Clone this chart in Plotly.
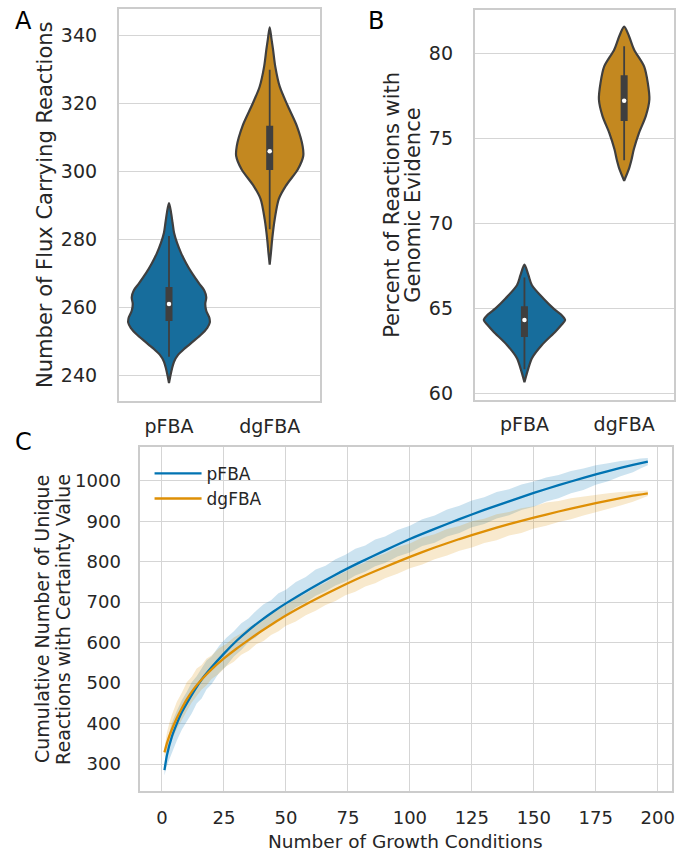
import plotly.graph_objects as go

categories = ["pFBA", "dgFBA"]

# ---------------- Panel A: violin outlines (value, half-width in category units)
a_pfba_vals = [290.7, 288, 285, 282, 279, 276, 273, 270, 267, 265, 263, 261, 259, 257, 255.5, 254, 252, 250, 248, 246, 244, 242, 240, 237.7]
a_pfba_half = [0, 0.02, 0.035, 0.05, 0.08, 0.12, 0.17, 0.23, 0.30, 0.35, 0.37, 0.36, 0.37, 0.40, 0.405, 0.38, 0.32, 0.24, 0.16, 0.09, 0.05, 0.03, 0.015, 0]
a_dgfba_vals = [342.5, 339, 336, 331, 325, 319.3, 313.4, 307.5, 304.6, 300.7, 295.8, 291.9, 286, 280.2, 276, 272.6]
a_dgfba_half = [0, 0.018, 0.033, 0.055, 0.10, 0.18, 0.27, 0.327, 0.333, 0.28, 0.16, 0.09, 0.05, 0.025, 0.012, 0]
# box stats: lower whisker, q1, median, q3, upper whisker
a_pfba_box = [245.5, 256, 261, 266, 281]
a_dgfba_box = [283, 300.5, 306, 313.5, 330]

# ---------------- Panel B
b_pfba_vals = [67.55, 66.93, 66.34, 65.56, 64.98, 64.6, 64.29, 64.0, 63.61, 62.83, 62.05, 61.46, 60.64]
b_pfba_half = [0, 0.04, 0.075, 0.19, 0.29, 0.37, 0.408, 0.37, 0.31, 0.175, 0.075, 0.04, 0]
b_dgfba_vals = [81.56, 80.98, 80.2, 79.22, 78.25, 77.27, 76.29, 75.32, 74.34, 73.76, 73.17, 72.49]
b_dgfba_half = [0, 0.05, 0.10, 0.20, 0.237, 0.253, 0.217, 0.15, 0.097, 0.075, 0.047, 0]
b_pfba_box = [61.4, 63.3, 64.3, 65.1, 66.8]
b_dgfba_box = [73.7, 76.0, 77.2, 78.7, 80.4]

# ---------------- Panel C: cumulative curves (mean lines)
c_x = [1, 2, 4, 6, 8, 10, 13, 16, 20, 25, 30, 35, 40, 45, 50, 60, 70, 80, 90, 100,
       110, 120, 130, 140, 150, 160, 170, 180, 190, 196]
c_pfba_mean = [285, 322, 368, 400, 428, 450, 481, 509, 539, 573, 604, 631, 655, 677, 697, 734, 768, 799, 828, 856,
               881, 905, 928, 949, 970, 989, 1007, 1024, 1039, 1047]
c_dgfba_mean = [329, 352, 386, 414, 438, 460, 487, 509, 534, 561, 585, 607, 628, 648, 667, 701, 732, 761, 787, 812,
                835, 856, 875, 893, 909, 924, 938, 951, 963, 969]

# confidence bands
c_band_x = [1, 2, 3, 4, 6, 8, 10, 12, 14, 16, 18, 20, 23, 26, 29, 32, 35, 38, 41, 44, 47, 50, 54, 58, 62, 66,
            70, 74, 78, 82, 86, 90, 95, 100, 105, 110, 115, 120, 125, 130, 135, 140, 145, 150, 155, 160, 165,
            170, 175, 180, 185, 190, 193, 196]
c_pfba_high = [300, 350, 378, 402, 432, 458, 478, 502, 517, 537, 556, 566, 592, 612, 628, 648, 660, 679, 695, 705,
               722, 731, 750, 762, 781, 790, 806, 817, 832, 840, 855, 862, 878, 889, 905, 914, 929, 938, 951, 959,
               972, 979, 991, 998, 1008, 1014, 1024, 1030, 1038, 1043, 1049, 1052, 1055, 1056]
c_pfba_low = [272, 296, 312, 330, 358, 385, 405, 425, 450, 462, 485, 497, 525, 543, 566, 582, 602, 614, 633, 644,
              659, 669, 687, 699, 716, 727, 741, 751, 766, 775, 789, 797, 813, 823, 839, 847, 862, 871, 885, 893,
              907, 915, 928, 936, 949, 957, 969, 977, 990, 999, 1011, 1021, 1030, 1038]
c_dgfba_high = [340, 378, 402, 422, 454, 476, 502, 516, 536, 545, 561, 568, 586, 597, 613, 623, 638, 647, 662, 670,
                685, 693, 710, 721, 737, 748, 764, 775, 789, 798, 812, 820, 836, 845, 860, 868, 881, 888, 900, 906,
                917, 923, 932, 937, 946, 950, 957, 961, 966, 969, 972, 974, 975, 976]
c_dgfba_low = [318, 332, 346, 360, 387, 410, 431, 452, 467, 484, 495, 510, 523, 542, 553, 570, 580, 596, 604, 619,
               628, 642, 652, 668, 679, 693, 703, 717, 726, 739, 747, 759, 770, 784, 793, 806, 815, 827, 835, 846,
               853, 865, 871, 882, 889, 898, 905, 914, 922, 930, 939, 948, 955, 962]

a_yticks = [240, 260, 280, 300, 320, 340]
b_yticks = [60, 65, 70, 75, 80]
c_xticks = [0, 25, 50, 75, 100, 125, 150, 175, 200]
c_yticks = [300, 400, 500, 600, 700, 800, 900, 1000]

VIOLIN_FILL = ["#176d9c", "#c38820"]
LINE_COL = ["#0173B2", "#DE8F05"]
BAND_COL = ["rgba(1,115,178,0.2)", "rgba(222,143,5,0.2)"]
EDGE = "#3f3f3f"
TXT = "#262626"
GRID = "#d5d5d5"
FONT = "DejaVu Sans"

fig = go.Figure()


def add_violin(pos, vals, half, box, fill, xa, ya):
    xs = [pos + w for w in half] + [pos - w for w in half[::-1]]
    ys = list(vals) + list(vals[::-1])
    fig.add_trace(go.Scatter(x=xs, y=ys, fill="toself", fillcolor=fill, mode="lines",
                             line=dict(color=EDGE, width=2.2, shape="spline", smoothing=0.8),
                             xaxis=xa, yaxis=ya, showlegend=False, hoverinfo="skip"))
    fig.add_trace(go.Scatter(x=[pos, pos], y=[box[0], box[4]], mode="lines",
                             line=dict(color=EDGE, width=1.8), xaxis=xa, yaxis=ya,
                             showlegend=False, hoverinfo="skip"))
    fig.add_trace(go.Scatter(x=[pos, pos], y=[box[1], box[3]], mode="lines",
                             line=dict(color=EDGE, width=7), xaxis=xa, yaxis=ya,
                             showlegend=False, hoverinfo="skip"))
    fig.add_trace(go.Scatter(x=[pos], y=[box[2]], mode="markers",
                             marker=dict(color="white", size=4.5), xaxis=xa, yaxis=ya,
                             showlegend=False, hoverinfo="skip"))


add_violin(0, a_pfba_vals, a_pfba_half, a_pfba_box, VIOLIN_FILL[0], "x", "y")
add_violin(1, a_dgfba_vals, a_dgfba_half, a_dgfba_box, VIOLIN_FILL[1], "x", "y")
add_violin(0, b_pfba_vals, b_pfba_half, b_pfba_box, VIOLIN_FILL[0], "x2", "y2")
add_violin(1, b_dgfba_vals, b_dgfba_half, b_dgfba_box, VIOLIN_FILL[1], "x2", "y2")

# Panel C bands
for lo, hi, col in [(c_pfba_low, c_pfba_high, BAND_COL[0]), (c_dgfba_low, c_dgfba_high, BAND_COL[1])]:
    fig.add_trace(go.Scatter(x=c_band_x + c_band_x[::-1], y=hi + lo[::-1], fill="toself", fillcolor=col,
                             mode="lines", line=dict(width=0), xaxis="x3", yaxis="y3",
                             showlegend=False, hoverinfo="skip"))
for name, mean, col in [("pFBA", c_pfba_mean, LINE_COL[0]), ("dgFBA", c_dgfba_mean, LINE_COL[1])]:
    fig.add_trace(go.Scatter(x=c_x, y=mean, mode="lines", name=name,
                             line=dict(color=col, width=2.3, shape="spline", smoothing=0.5),
                             xaxis="x3", yaxis="y3"))

W, H = 676, 851


def px_x(p):
    return p / W


def px_y(p):
    return 1 - p / H


axis_common = dict(showline=True, mirror=True, linecolor="#cccccc", linewidth=1.5,
                   gridcolor=GRID, gridwidth=1.2, zeroline=False,
                   tickfont=dict(family=FONT, size=19, color=TXT), ticks="")
c_font = dict(family=FONT, size=18, color=TXT)

fig.update_layout(
    width=W, height=H, margin=dict(l=0, r=0, t=0, b=0),
    paper_bgcolor="white", plot_bgcolor="white",
    font=dict(family=FONT, color=TXT),
    xaxis=dict(domain=[px_x(119), px_x(321)], range=[-0.5, 1.5], tickvals=[0, 1], ticktext=categories,
               showgrid=False, anchor="y", ticklabelstandoff=7, **axis_common),
    yaxis=dict(domain=[px_y(403), px_y(9)], range=[232.4, 347.9], tickvals=a_yticks,
               showgrid=True, anchor="x", ticklabelstandoff=16, **axis_common),
    xaxis2=dict(domain=[px_x(476), px_x(676)], range=[-0.5, 1.5], tickvals=[0, 1], ticktext=categories,
                showgrid=False, anchor="y2", ticklabelstandoff=7, **axis_common),
    yaxis2=dict(domain=[px_y(401.7), px_y(10)], range=[59.6, 82.54], tickvals=b_yticks,
                showgrid=True, anchor="x2", ticklabelstandoff=16, **axis_common),
    xaxis3=dict(domain=[px_x(140.7), px_x(674)], range=[-8.75, 205.75], tickvals=c_xticks,
                showgrid=True, anchor="y3", ticklabelstandoff=9, **{**axis_common, "tickfont": c_font}),
    yaxis3=dict(domain=[px_y(795), px_y(449)], range=[232.9, 1083.6], tickvals=c_yticks,
                showgrid=True, anchor="x3", ticklabelstandoff=14, **{**axis_common, "tickfont": c_font}),
    legend=dict(x=px_x(150), y=px_y(458), xanchor="left", yanchor="top", bgcolor="rgba(0,0,0,0)",
                font=dict(family=FONT, size=17, color=TXT), tracegroupgap=0, itemwidth=47),
    showlegend=True,
)

ann = []


def add_text(text, x, y, size, angle=0, yanchor="middle"):
    ann.append(dict(text=text, x=px_x(x), y=px_y(y), xref="paper", yref="paper", showarrow=False,
                    xanchor="center", yanchor=yanchor, textangle=angle, borderpad=0,
                    font=dict(family=FONT, size=size, color="black" if len(text) == 1 else TXT)))


add_text("A", 24, 21, 24)
add_text("B", 377, 21, 24)
add_text("C", 24, 444, 24)
add_text("Number of Flux Carrying Reactions", 45, 206, 21, -90)
add_text("Percent of Reactions with", 393, 206, 21, -90)
add_text("Genomic Evidence", 414, 206, 21, -90)
add_text("Cumulative Number of Unique", 42, 622, 19, -90)
add_text("Reactions with Certainty Value", 63, 622, 19, -90)
add_text("Number of Growth Conditions", 407, 845, 18.5)
fig.update_layout(annotations=ann)

fig.write_html("out.html")
